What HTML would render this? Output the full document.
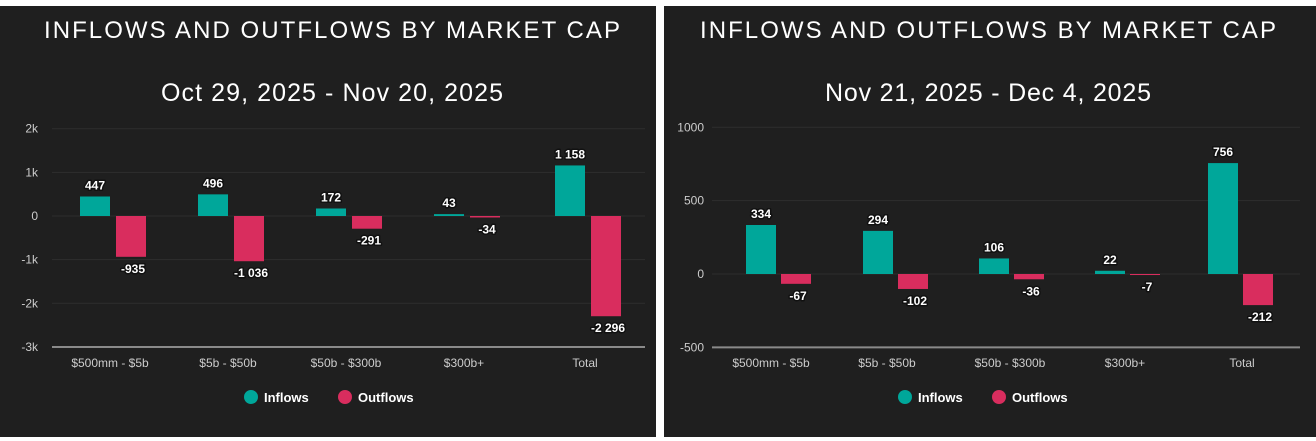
<!DOCTYPE html>
<html><head><meta charset="utf-8"><style>
html,body{margin:0;padding:0;background:#fff;width:1316px;height:441px;overflow:hidden}
svg text{font-family:"Liberation Sans",sans-serif}
</style></head><body>
<svg id="s" width="1316" height="441" xmlns="http://www.w3.org/2000/svg">
<rect x="0" y="6" width="656" height="431" fill="#1f1f1f"/>
<rect x="664" y="6" width="652" height="431" fill="#1f1f1f"/>
</svg>
<script>
const s=document.getElementById('s');let h='';
function t(x,y,str,o){o=o||{};h+=`<text x="${x}" y="${y}" fill="${o.f||'#fff'}" font-size="${o.s||12}" text-anchor="${o.a||'middle'}" font-weight="${o.w||'normal'}" ${o.tl?`textLength="${o.tl}" lengthAdjust="spacing"`:''} ${o.st?'stroke="#111" stroke-width="3" paint-order="stroke" stroke-linejoin="round"':''}>${str}</text>`;}
function chart(P){
  t(P.cx,38,"INFLOWS AND OUTFLOWS BY MARKET CAP",{s:24,tl:576});
  t(P.cx,101,P.sub,{s:25,tl:P.stl});
  P.ticks.forEach(([v,l],i)=>{const y=P.y0-v*P.k;
    h+=`<line x1="${P.gx1}" x2="${P.gx2}" y1="${y}" y2="${y}" stroke="${i==P.ticks.length-1?'#8a8a8a':'#2e2e2e'}" stroke-width="${i==P.ticks.length-1?2:1}"/>`;
    t(P.tx,y+4,l,{s:12,a:'end',f:'#ccc'});});
  P.cats.forEach((c,i)=>{
    const g=P.g[i],[a,b]=P.vals[i];
    const ha=a*P.k,hb=-b*P.k;
    h+=`<rect x="${g}" y="${P.y0-ha}" width="${P.bw}" height="${ha}" fill="#00a79a"/>`;
    h+=`<rect x="${g+P.bw+P.gap}" y="${P.y0}" width="${P.bw}" height="${hb}" fill="#d92d5e"/>`;
    t(g+P.bw/2,P.y0-ha-7,P.la[i],{w:'bold',st:1,s:12});
    t(g+P.bw*1.5+P.gap+2,P.y0+hb+16,P.lb[i],{w:'bold',st:1,s:12});
    t(P.lc[i],367,c,{s:12,f:'#ccc'});
  });
  h+=`<circle cx="${P.lg}" cy="397" r="7" fill="#00a79a"/>`;t(P.lg+13,402,"Inflows",{a:'start',w:'bold',s:13});
  h+=`<circle cx="${P.lg+94}" cy="397" r="7" fill="#d92d5e"/>`;t(P.lg+107,402,"Outflows",{a:'start',w:'bold',s:13});
}
const cats=["$500mm - $5b","$5b - $50b","$50b - $300b","$300b+","Total"];
chart({cx:332,sub:"Oct 29, 2025 - Nov 20, 2025",stl:342,y0:216,k:0.04365,gx1:52,gx2:645,tx:38,
 ticks:[[2000,'2k'],[1000,'1k'],[0,'0'],[-1000,'-1k'],[-2000,'-2k'],[-3000,'-3k']],
 cats,g:[80,198,316,434,555],bw:30,gap:6,
 vals:[[447,-935],[496,-1036],[172,-291],[43,-34],[1158,-2296]],
 la:["447","496","172","43","1 158"],lb:["-935","-1 036","-291","-34","-2 296"],
 lc:[110,228,346,464,585],lg:251});
chart({cx:988,sub:"Nov 21, 2025 - Dec 4, 2025",stl:326,y0:274,k:0.1467,gx1:712,gx2:1300,tx:704,
 ticks:[[1000,'1000'],[500,'500'],[0,'0'],[-500,'-500']],
 cats,g:[746,863,979,1095,1208],bw:30,gap:5,
 vals:[[334,-67],[294,-102],[106,-36],[22,-7],[756,-212]],
 la:["334","294","106","22","756"],lb:["-67","-102","-36","-7","-212"],
 lc:[771,887,1010,1125,1242],lg:905});
s.insertAdjacentHTML('beforeend',h);
</script>
</body></html>
